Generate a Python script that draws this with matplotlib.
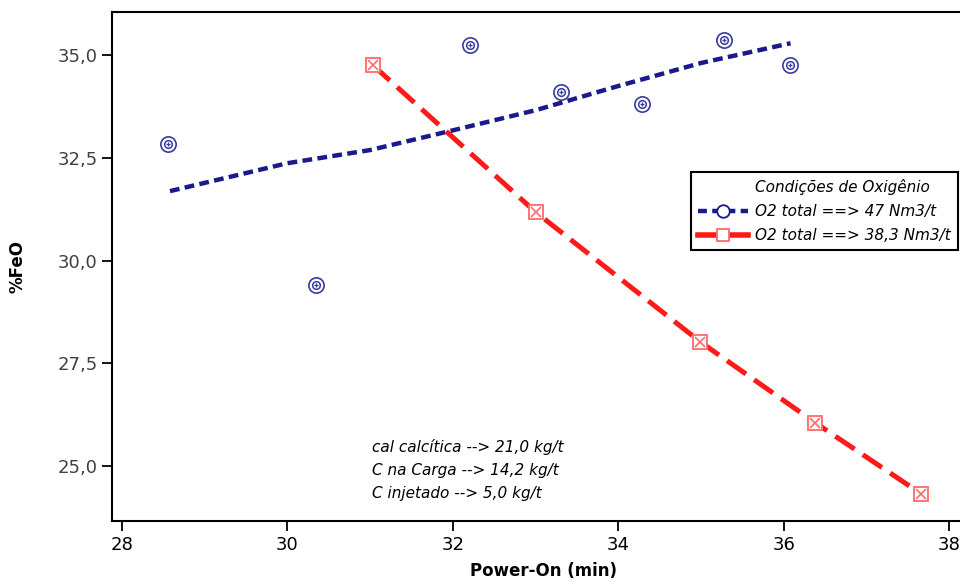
import numpy as np
import matplotlib.pyplot as plt
from matplotlib.ticker import FuncFormatter
from matplotlib.lines import Line2D

# O2 total 47 Nm3/t - pontos
x_47 = [28.56, 30.35, 32.21, 33.30, 34.29, 35.28, 36.07]
y_47 = [32.83, 29.40, 35.24, 34.10, 33.81, 35.36, 34.76]
# linha de ajuste (47)
xfit_47 = [28.58, 30.0, 31.0, 32.0, 33.0, 34.0, 35.0, 36.08]
yfit_47 = [31.69, 32.37, 32.69, 33.17, 33.66, 34.25, 34.81, 35.29]

# O2 total 38,3 Nm3/t
x_38 = [31.03, 33.0, 34.99, 36.38, 37.66]
y_38 = [34.76, 31.18, 28.02, 26.05, 24.32]

xticks = [28, 30, 32, 34, 36, 38]
yticks = [25.0, 27.5, 30.0, 32.5, 35.0]

navy = '#1a1a8c'
red = '#ff1a1a'

fig = plt.figure(figsize=(9.6, 5.86), dpi=100)
ax = fig.add_axes([0.1167, 0.1109, 0.899, 0.8686])

ax.plot(xfit_47, yfit_47, color=navy, lw=3.2, ls=(0, (2.2, 1.2)))
ax.plot(x_47, y_47, ls='none', marker='o', ms=11, mfc='white', mec='#3a3aa0', mew=1.2)
ax.plot(x_47, y_47, ls='none', marker='o', ms=5.5, mfc='none', mec='#3a3aa0', mew=1.1)
ax.plot(x_47, y_47, ls='none', marker='+', ms=3, mec='#3a3aa0', mew=0.9)

ax.plot(x_38, y_38, color=red, lw=3.6, ls=(0, (4.6, 2.0)))
ax.plot(x_38, y_38, ls='none', marker='s', ms=10, mfc='white', mec='#ff6a6a', mew=1.3)
ax.plot(x_38, y_38, ls='none', marker='x', ms=7, mec='#ff6a6a', mew=1.2)

# legenda
h0 = Line2D([], [], color='none')
h1 = Line2D([], [], color=navy, lw=3.2, ls=(0, (2.0, 1.2)),
            marker='o', ms=9, mfc='white', mec=navy, mew=1.3)
h2 = Line2D([], [], color=red, lw=4, ls='-',
            marker='s', ms=8, mfc='white', mec='#ff6a6a', mew=1.3)
leg = ax.legend([h0, h1, h2],
                ['Condições de Oxigênio', 'O2 total ==> 47 Nm3/t', 'O2 total ==> 38,3 Nm3/t'],
                loc='upper left', bbox_to_anchor=(0.671, 0.686), fancybox=False,
                edgecolor='black', framealpha=1, handlelength=3.3, fontsize=11,
                borderpad=0.45, labelspacing=0.6, handletextpad=0.45, borderaxespad=0)
for t in leg.get_texts():
    t.set_fontstyle('italic')
leg.get_frame().set_linewidth(1.5)

ax.text(31.02, 24.90, 'cal calcítica --> 21,0 kg/t\nC na Carga --> 14,2 kg/t\nC injetado --> 5,0 kg/t',
        fontsize=11, fontstyle='italic', linespacing=1.65, va='center')

ax.set_xlim(27.88, 38.31)
ax.set_ylim(23.66, 36.05)
ax.set_xticks(xticks)
ax.set_yticks(yticks)
ax.yaxis.set_major_formatter(FuncFormatter(lambda v, p: ('%.1f' % v).replace('.', ',')))
ax.tick_params(direction='out', length=7, width=1.3, labelsize=13, labelcolor='#404040')
ax.tick_params(axis='x', labelcolor='black')
for s in ax.spines.values():
    s.set_linewidth(1.5)

ax.set_xlabel('Power-On (min)', fontsize=12, fontweight='bold', labelpad=6)
ax.set_ylabel('%FeO', fontsize=12, fontweight='bold', labelpad=22)

fig.savefig('out.png', dpi=100)
